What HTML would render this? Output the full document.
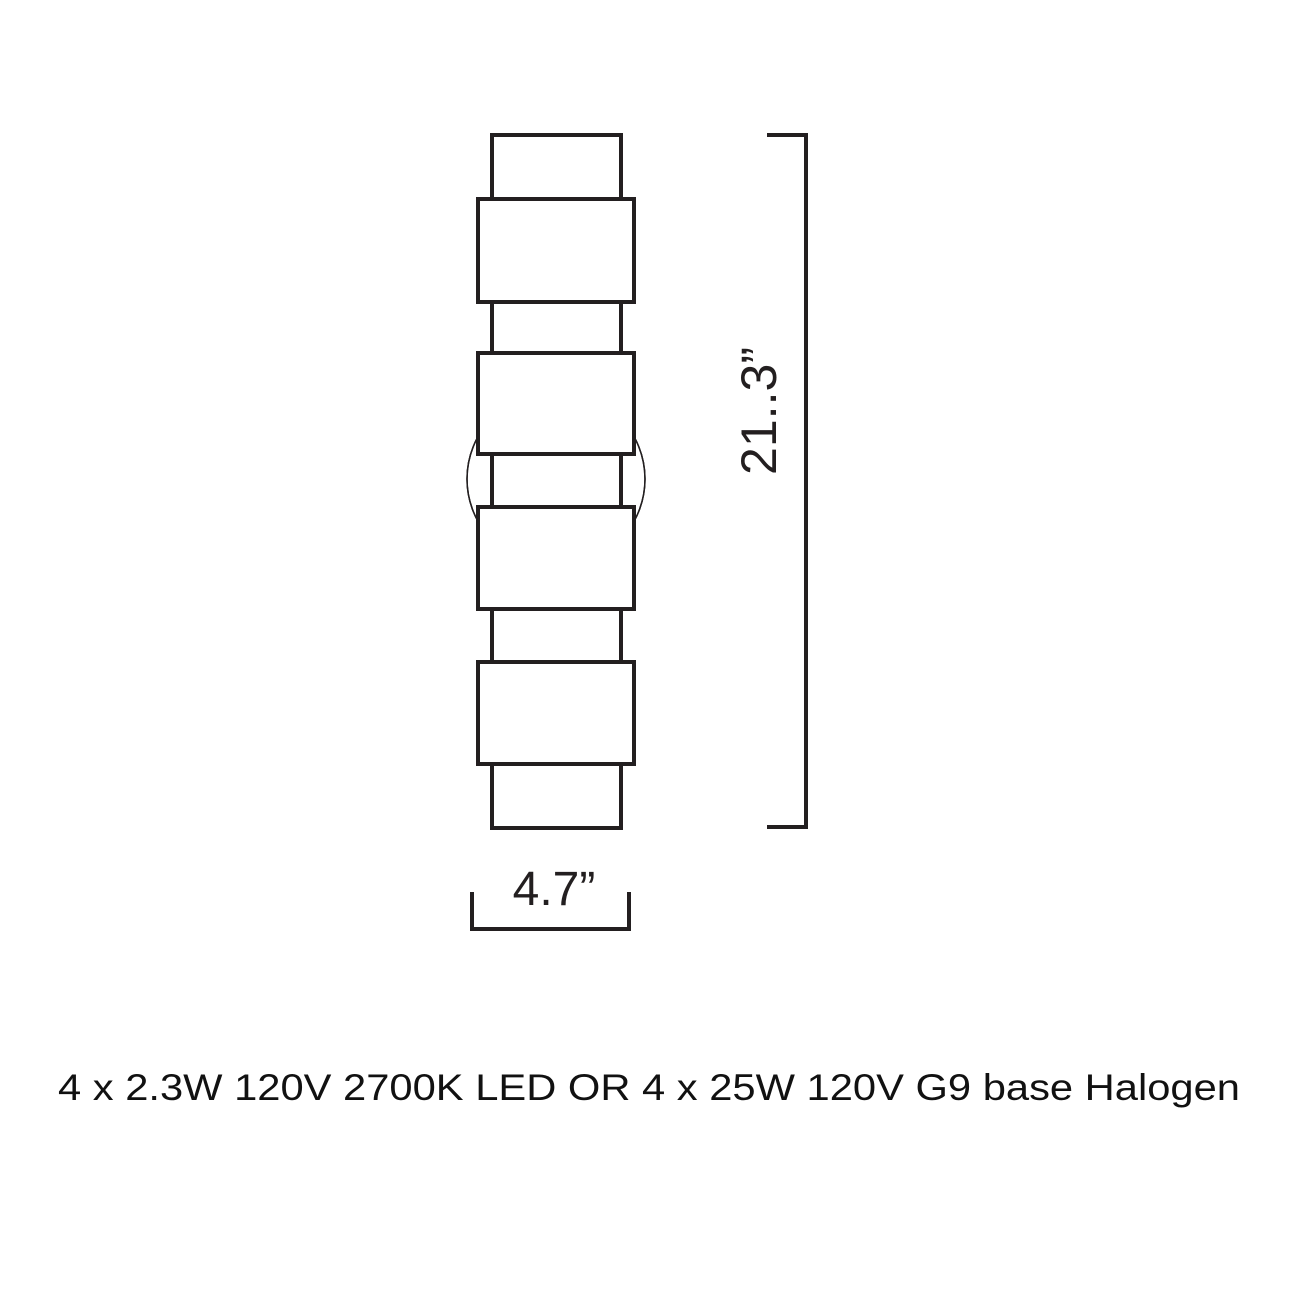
<!DOCTYPE html>
<html><head><style>html,body{margin:0;padding:0;background:#fff}</style></head>
<body>
<svg width="1305" height="1305" viewBox="0 0 1305 1305" xmlns="http://www.w3.org/2000/svg">
<rect width="1305" height="1305" fill="#fff"/>
<ellipse cx="556" cy="479" rx="89" ry="88" fill="none" stroke="#231f20" stroke-width="1.5"/>
<g fill="#fff" stroke="#231f20" stroke-width="4">
<rect x="492" y="135" width="129" height="64"/>
<rect x="492" y="302" width="129" height="51"/>
<rect x="492" y="454" width="129" height="53"/>
<rect x="492" y="609" width="129" height="53"/>
<rect x="492" y="764" width="129" height="64"/>
<rect x="478" y="199" width="156" height="103"/>
<rect x="478" y="353" width="156" height="101"/>
<rect x="478" y="507" width="156" height="102"/>
<rect x="478" y="662" width="156" height="102"/>
</g>
<rect x="480" y="456" width="10" height="49" fill="#fff"/>
<rect x="623" y="456" width="9" height="49" fill="#fff"/>
<ellipse cx="556" cy="479" rx="89" ry="88" fill="none" stroke="#231f20" stroke-width="1.5" clip-path="url(#c)"/>
<defs><clipPath id="c"><rect x="0" y="0" width="478" height="1305"/><rect x="634" y="0" width="700" height="1305"/></clipPath></defs>
<g fill="none" stroke="#231f20" stroke-width="4">
<line x1="492" y1="454" x2="492" y2="507"/>
<line x1="621" y1="454" x2="621" y2="507"/>
<polyline points="767,135 806,135 806,827 767,827"/>
<polyline points="472,892 472,929 629,929 629,892"/>
</g>
<text x="554" y="905" font-family="Liberation Sans, sans-serif" font-size="48" fill="#231f20" text-anchor="middle">4.7”</text>
<text transform="translate(776,411) rotate(-90)" font-family="Liberation Sans, sans-serif" font-size="50" fill="#231f20" text-anchor="middle" textLength="128" lengthAdjust="spacingAndGlyphs">21..3”</text>
<text x="58" y="1100" font-family="Liberation Sans, sans-serif" font-size="37" fill="#111" textLength="1182" lengthAdjust="spacingAndGlyphs">4 x 2.3W 120V 2700K LED OR 4 x 25W 120V G9 base Halogen</text>
</svg>
</body></html>
